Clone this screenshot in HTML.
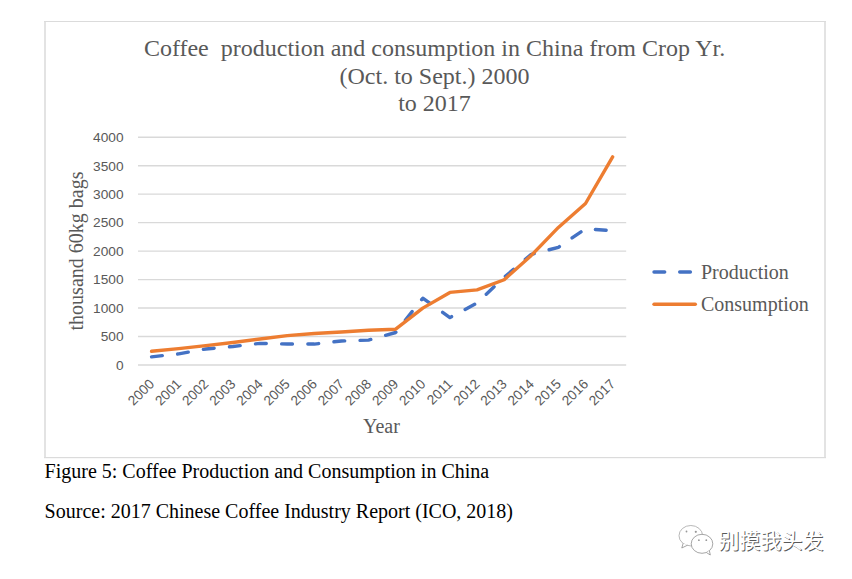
<!DOCTYPE html>
<html><head><meta charset="utf-8">
<style>
html,body{margin:0;padding:0;background:#fff;}
body{width:852px;height:579px;overflow:hidden;position:relative;}
svg{position:absolute;left:0;top:0;}
.serif{font-family:"Liberation Serif","Times New Roman",serif;}
.sans{font-family:"Liberation Sans",Arial,sans-serif;}
.wm{position:absolute;left:718.5px;top:525.5px;font-family:"Liberation Sans","Noto Sans CJK SC",sans-serif;font-size:21px;line-height:30px;color:#fff;text-shadow:1px 1px 0.6px rgba(60,60,60,0.85);letter-spacing:0px;white-space:nowrap;}
</style></head>
<body>
<svg width="852" height="579" viewBox="0 0 852 579">
<g fill="#e3e3e3"><rect x="44" y="21" width="2" height="437"/><rect x="824" y="21" width="2" height="437"/></g>
<g fill="#dbdbdb"><rect x="44" y="21" width="782" height="1"/><rect x="44" y="457" width="782" height="1.2"/></g>
<g class="serif" fill="#595959" font-size="24" text-anchor="middle">
<text x="434.5" y="55.5" xml:space="preserve">Coffee  production and consumption in China from Crop Yr.</text>
<text x="434.5" y="83.5">(Oct. to Sept.) 2000</text>
<text x="434.5" y="110.8">to 2017</text>
</g>
<g stroke="#d9d9d9" stroke-width="1.33">
<line x1="138" x2="626.2" y1="364.96" y2="364.96"/>
<line x1="138" x2="626.2" y1="336.50" y2="336.50"/>
<line x1="138" x2="626.2" y1="308.03" y2="308.03"/>
<line x1="138" x2="626.2" y1="279.57" y2="279.57"/>
<line x1="138" x2="626.2" y1="251.10" y2="251.10"/>
<line x1="138" x2="626.2" y1="222.64" y2="222.64"/>
<line x1="138" x2="626.2" y1="194.18" y2="194.18"/>
<line x1="138" x2="626.2" y1="165.71" y2="165.71"/>
<line x1="138" x2="626.2" y1="137.25" y2="137.25"/>
</g>
<g class="sans" fill="#595959" font-size="13.7" text-anchor="end">
<text x="123.5" y="369.76">0</text>
<text x="123.5" y="341.30">500</text>
<text x="123.5" y="312.83">1000</text>
<text x="123.5" y="284.37">1500</text>
<text x="123.5" y="255.91">2000</text>
<text x="123.5" y="227.44">2500</text>
<text x="123.5" y="198.98">3000</text>
<text x="123.5" y="170.51">3500</text>
<text x="123.5" y="142.05">4000</text>
</g>
<g class="sans" fill="#595959" font-size="13.7" text-anchor="end">
<text transform="translate(155.06,384.8) rotate(-45)">2000</text>
<text transform="translate(182.18,384.8) rotate(-45)">2001</text>
<text transform="translate(209.31,384.8) rotate(-45)">2002</text>
<text transform="translate(236.43,384.8) rotate(-45)">2003</text>
<text transform="translate(263.55,384.8) rotate(-45)">2004</text>
<text transform="translate(290.67,384.8) rotate(-45)">2005</text>
<text transform="translate(317.79,384.8) rotate(-45)">2006</text>
<text transform="translate(344.92,384.8) rotate(-45)">2007</text>
<text transform="translate(372.04,384.8) rotate(-45)">2008</text>
<text transform="translate(399.16,384.8) rotate(-45)">2009</text>
<text transform="translate(426.28,384.8) rotate(-45)">2010</text>
<text transform="translate(453.41,384.8) rotate(-45)">2011</text>
<text transform="translate(480.53,384.8) rotate(-45)">2012</text>
<text transform="translate(507.65,384.8) rotate(-45)">2013</text>
<text transform="translate(534.77,384.8) rotate(-45)">2014</text>
<text transform="translate(561.89,384.8) rotate(-45)">2015</text>
<text transform="translate(589.02,384.8) rotate(-45)">2016</text>
<text transform="translate(616.14,384.8) rotate(-45)">2017</text>
</g>
<text class="serif" fill="#595959" font-size="20" text-anchor="middle" transform="translate(83.3,251) rotate(-90)">thousand 60kg bags</text>
<text class="serif" fill="#595959" font-size="20" x="363" y="432.8">Year</text>
<path d="M151.56,356.82 L178.68,353.86 L205.81,348.96 L232.93,346.46 L260.05,343.33 L287.17,344.07 L314.29,344.07 L341.42,340.94 L368.54,340.08 L395.66,332.51 L422.78,298.18 L449.91,317.54 L477.03,303.02 L504.15,277.35 L531.27,254.35 L558.39,247.35 L585.52,228.73 L612.64,230.72" fill="none" stroke="#4472c4" stroke-width="3.4" stroke-linecap="round" stroke-linejoin="round" stroke-dasharray="10.8 15.4"/>
<path d="M151.56,351.30 L178.68,348.62 L205.81,345.60 L232.93,342.47 L260.05,339.06 L287.17,335.59 L314.29,333.54 L341.42,331.94 L368.54,330.23 L395.66,329.21 L422.78,308.15 L449.91,292.43 L477.03,289.93 L504.15,279.74 L531.27,255.43 L558.39,227.42 L585.52,203.51 L612.64,156.89" fill="none" stroke="#ed7d31" stroke-width="3.4" stroke-linecap="round" stroke-linejoin="round"/>
<path d="M654,272 L692,272" fill="none" stroke="#4472c4" stroke-width="3.4" stroke-linecap="round" stroke-dasharray="10.7 15"/>
<path d="M654,304.3 L695.3,304.3" fill="none" stroke="#ed7d31" stroke-width="3.4" stroke-linecap="round"/>
<g class="serif" fill="#595959" font-size="20">
<text x="701" y="278.9">Production</text>
<text x="701" y="311.2">Consumption</text>
</g>
<g class="serif" fill="#000" font-size="20">
<text x="44.6" y="477.8">Figure 5: Coffee Production and Consumption in China</text>
<text x="44.6" y="517.9">Source: 2017 Chinese Coffee Industry Report (ICO, 2018)</text>
</g>
<g fill="#fff" stroke="#a0a0a0" stroke-width="0.75">
<ellipse cx="690.8" cy="535.7" rx="11.8" ry="10.2"/>
<path d="M683.2,543.2 L681.8,548 L687.5,545.2" stroke="#888"/>
<ellipse cx="702" cy="543.8" rx="10.8" ry="9.5" stroke="#888"/>
<path d="M706.5,552.6 L710.3,555 L709.4,550.8" stroke="#888"/>
</g>
<g fill="#999">
<circle cx="686.5" cy="531.5" r="0.9"/><circle cx="695.8" cy="531.8" r="1.1"/>
<circle cx="698.9" cy="540.2" r="0.9"/><circle cx="706.3" cy="540.2" r="0.9"/>
</g>
</svg>
<div class="wm">别摸我头发</div>
</body></html>
